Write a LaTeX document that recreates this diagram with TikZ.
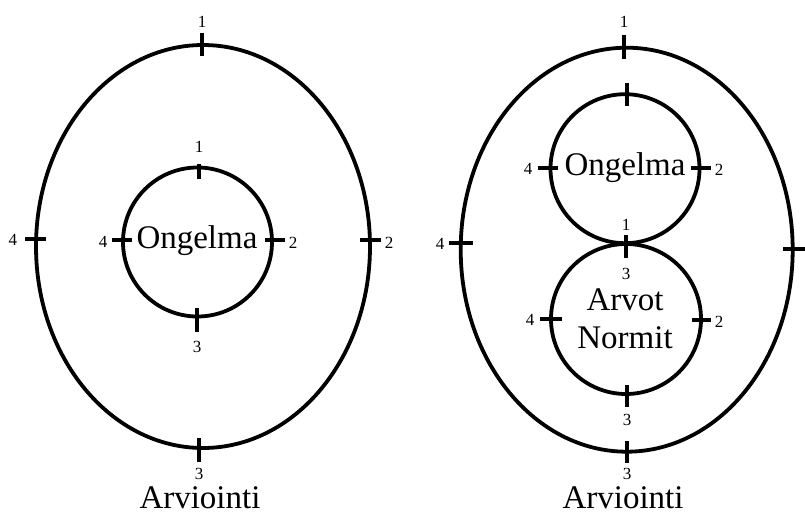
\documentclass[tikz,border=0pt]{standalone}
\usepackage{fontspec}
\setmainfont{Liberation Serif}
\usetikzlibrary{shapes.geometric}
\begin{document}
\begin{tikzpicture}[x=1pt,y=-1pt,
  ring/.style={draw, line width=3.8pt, inner sep=0pt, outer sep=0pt},
  oval/.style={ring, ellipse},
  disc/.style={ring, circle},
  big/.style={font=\fontsize{33}{38}\selectfont, inner sep=1pt},
  num/.style={font=\fontsize{17}{19}\selectfont, inner sep=0pt, anchor=base},
  tick/.style={line width=3.5pt}]
\useasboundingbox (0,0) rectangle (805,516);
% ---------- left diagram ----------
\node[oval, minimum width=334, minimum height=403] (LO) at (203,246.5) {};
\node[disc, minimum size=149] (LI) at (197.5,242) {};
\node[big, anchor=base] (LItext) at (197,248) {Ongelma};
\node[big, anchor=base] (LA) at (200,508) {Arviointi};
% outer ticks
\draw[tick] (202,33) -- (202,56);
\node[num] (LO1) at (202,28) {1};
\draw[tick] (25,239) -- (46,239);
\node[num] (LO4) at (13,245) {4};
\draw[tick] (360,240) -- (381,240);
\node[num] (LO2) at (389,248) {2};
\draw[tick] (199,438) -- (199,462);
\node[num] (LO3) at (199,479) {3};
% inner ticks
\draw[tick] (199,164) -- (199,179);
\node[num] (LI1) at (199,152) {1};
\draw[tick] (112,240) -- (132,240);
\node[num] (LI4) at (103,247) {4};
\draw[tick] (265,240) -- (285,240);
\node[num] (LI2) at (293,248) {2};
\draw[tick] (197,308) -- (197,332);
\node[num] (LI3) at (197,352) {3};
% ---------- right diagram ----------
\node[oval, minimum width=332, minimum height=404] (RO) at (626.7,249.7) {};
\node[disc, minimum size=149] (RU) at (625,168.7) {};
\node[disc, minimum size=150] (RL) at (626,319) {};
\node[big, anchor=base] (RUtext) at (625,175) {Ongelma};
\node[big, anchor=base] (RLtext1) at (625,310) {Arvot};
\node[big, anchor=base] (RLtext2) at (625,348) {Normit};
\node[big, anchor=base] (RA) at (623,508) {Arviointi};
% outer ticks
\draw[tick] (624,35) -- (624,59);
\node[num] (RO1) at (624,28) {1};
\draw[tick] (449,243) -- (473,243);
\node[num] (RO4) at (440,249) {4};
\draw[tick] (783,249) -- (806,249);
\draw[tick] (627,441) -- (627,463);
\node[num] (RO3) at (627,479) {3};
% upper circle ticks
\draw[tick] (627,83) -- (627,106);
\draw[tick] (538,168) -- (558,168);
\node[num] (RU4) at (528,174) {4};
\draw[tick] (691,168) -- (711,168);
\node[num] (RU2) at (719,175) {2};
% tangent tick
\draw[tick] (626,235) -- (626,258);
\node[num] (RU1) at (626,230) {1};
\node[num] (RL3t) at (626,279) {3};
% lower circle ticks
\draw[tick] (540,319) -- (562,319);
\node[num] (RL4) at (530,325) {4};
\draw[tick] (692,320) -- (711,320);
\node[num] (RL2) at (719,327) {2};
\draw[tick] (627,385) -- (627,407);
\node[num] (RL3) at (627,425) {3};
\end{tikzpicture}
\end{document}
